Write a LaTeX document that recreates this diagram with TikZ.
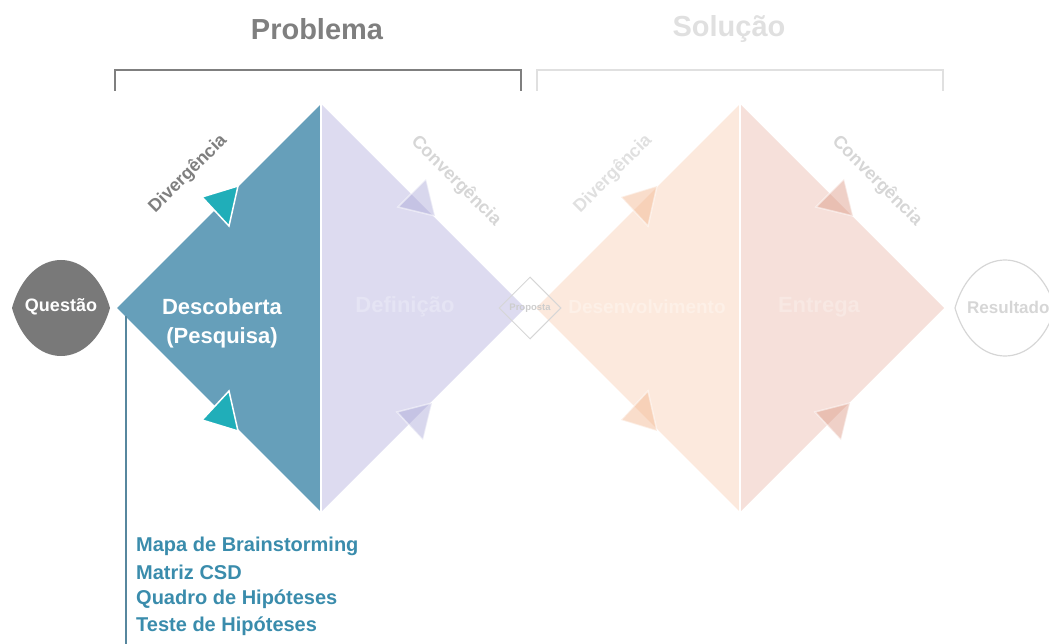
\documentclass[tikz,border=0pt]{standalone}
\usepackage{fontspec}
\setmainfont{Liberation Sans}
\usetikzlibrary{shapes.geometric}
\definecolor{azul}{HTML}{669FBA}
\definecolor{turquesa}{HTML}{20AEB9}
\definecolor{lilas}{HTML}{DDDBF0}
\definecolor{lilasseta}{HTML}{A9A6D6}
\definecolor{pessego}{HTML}{FCE9DD}
\definecolor{pessegoseta}{HTML}{F2B48C}
\definecolor{rosa}{HTML}{F6E0DA}
\definecolor{rosaseta}{HTML}{DB9783}
\definecolor{cinza}{HTML}{7F7F7F}
\definecolor{claro}{HTML}{E0E0E0}
\definecolor{lista}{HTML}{3A8CAC}
\begin{document}
\begin{tikzpicture}[x=1pt, y=-1pt,
  seta/.style={draw=white, line width=1.5pt, line join=miter},
  rotulo/.style={font=\bfseries\fontsize{18}{20}\selectfont},
  titulo/.style={font=\bfseries\fontsize{29}{32}\selectfont},
  fase/.style={font=\bfseries\fontsize{22}{25}\selectfont},
  item/.style={anchor=west, text=lista, inner sep=0pt, font=\bfseries\fontsize{20}{24}\selectfont}]
\useasboundingbox (0,0) rectangle (1049,644);

\node[titulo, text=cinza] (P) at (317,29) {Problema};
\node[titulo, text=claro] (S) at (729,29) {Solução};
\draw[cinza, line width=1.5pt] (115,91) -- (115,70) -- (521,70) -- (521,91);
\draw[claro, line width=1.5pt] (537,91) -- (537,70) -- (943,70) -- (943,91);

\fill[azul] (117,308) -- (321,104) -- (321,512) -- cycle;
\fill[lilas] (321,104) -- (525,308) -- (321,512) -- cycle;
\fill[pessego] (536,308) -- (740,104) -- (740,512) -- cycle;
\fill[rosa] (740,104) -- (944,308) -- (740,512) -- cycle;
\draw[white, line width=2pt] (321,102) -- (321,514);
\draw[white, line width=2pt] (740,102) -- (740,514);

\path[seta, fill=turquesa] (202,197) -- (238,186) -- (229,226) -- cycle;
\path[seta, fill=turquesa] (202,420) -- (238,431) -- (229,391) -- cycle;
\path[seta, draw opacity=0.5, fill=lilasseta, fill opacity=0.45] (398,207) -- (426,179) -- (435,216) -- cycle;
\path[seta, draw opacity=0.5, fill=lilasseta, fill opacity=0.45] (397,412) -- (432,403) -- (423,440) -- cycle;
\path[seta, draw opacity=0.5, fill=pessegoseta, fill opacity=0.45] (621,197) -- (657,186) -- (648,226) -- cycle;
\path[seta, draw opacity=0.5, fill=pessegoseta, fill opacity=0.45] (621,420) -- (657,431) -- (648,391) -- cycle;
\path[seta, draw opacity=0.5, fill=rosaseta, fill opacity=0.45] (816,207) -- (844,179) -- (853,216) -- cycle;
\path[seta, draw opacity=0.5, fill=rosaseta, fill opacity=0.45] (815,412) -- (850,403) -- (841,440) -- cycle;

\node[rotulo, text=cinza, rotate=45] (D1) at (188,174) {Divergência};
\node[rotulo, text=claro!90!gray, rotate=-45] (C1) at (456,181) {Convergência};
\node[rotulo, text=claro, rotate=45] (D2) at (613,174) {Divergência};
\node[rotulo, text=claro!90!gray, rotate=-45] (C2) at (877,181) {Convergência};

\node[fase, text=white] (desc) at (222,307) {Descoberta};
\node[fase, text=white] (pesq) at (222,338) {(Pesquisa)};
\node[fase, text=white!25!lilas] (def) at (405,307) {Definição};
\node[fase, text=white!30!pessego, font=\bfseries\fontsize{19}{22}\selectfont] (des) at (647,307) {Desenvolvimento};
\node[fase, text=white!25!rosa] (ent) at (819,307) {Entrega};

\node[diamond, draw=claro!90!gray, line width=1pt, minimum size=62pt, inner sep=0pt, font=\bfseries\fontsize{9.5}{10}\selectfont, text=claro!80!gray] (prop) at (530,308) {Proposta};

\fill[cinza!95!black] (12,308) .. controls (30,244) and (92,244) .. (110,308) .. controls (92,372) and (30,372) .. (12,308);
\node[text=white, font=\bfseries\fontsize{18}{20}\selectfont] (Q) at (61,307) {Questão};
\draw[claro!90!gray, line width=1.2pt] (955,308) .. controls (973,244) and (1037,244) .. (1055,308) .. controls (1037,372) and (973,372) .. (955,308);
\node[text=claro!90!gray, anchor=west, inner sep=0pt, font=\bfseries\fontsize{17}{20}\selectfont] (R) at (967,307) {Resultado};

\coordinate (topo) at (126,316);
\coordinate (fim) at (126,644);
\draw[azul!85!black, line width=2pt] (topo) -- (fim);
\node[item] (m1) at (136,546) {Mapa de Brainstorming};
\node[item] (m2) at (136,572) {Matriz CSD};
\node[item] (m3) at (136,599) {Quadro de Hipóteses};
\node[item] (m4) at (136,626) {Teste de Hipóteses};
\end{tikzpicture}
\end{document}
